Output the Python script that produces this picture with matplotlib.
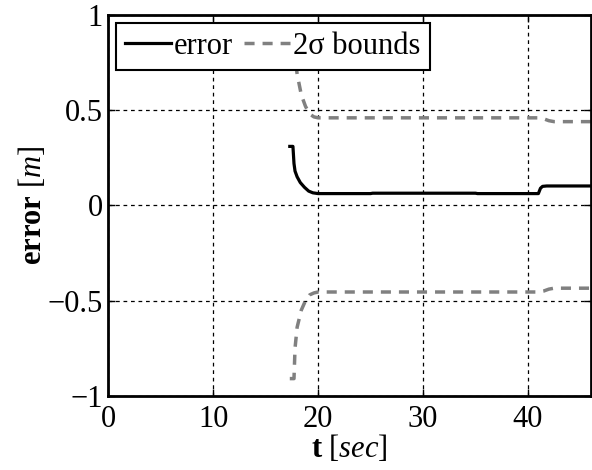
import matplotlib
matplotlib.use("Agg")
import matplotlib.pyplot as plt

plt.rcParams['font.family'] = ['Liberation Serif', 'DejaVu Serif']
plt.rcParams['mathtext.fontset'] = 'custom'
plt.rcParams['mathtext.rm'] = 'Liberation Serif'
plt.rcParams['mathtext.it'] = 'Liberation Serif:italic'
plt.rcParams['mathtext.bf'] = 'Liberation Serif:bold'

# error series
t_err = [17.3, 17.6, 17.7, 17.8, 18.0, 18.3, 18.7, 19.1, 19.5, 20.0, 25.0, 25.2, 35.0, 35.2, 41.0, 41.2, 41.4, 41.8, 46.0]
err = [0.31, 0.31, 0.22, 0.18, 0.15, 0.12, 0.095, 0.075, 0.066, 0.062, 0.062, 0.064, 0.064, 0.062, 0.062, 0.09, 0.10, 0.102, 0.102]

# 2-sigma bounds
t_bnd = [17.3, 17.7, 17.8, 18.0, 18.4, 18.8, 19.2, 19.6, 20.0, 41.0, 41.5, 42.0, 42.5, 46.0]
lower = [-0.91, -0.91, -0.75, -0.64, -0.55, -0.50, -0.47, -0.46, -0.455, -0.455, -0.45, -0.44, -0.435, -0.435]
upper = [0.91, 0.91, 0.78, 0.69, 0.58, 0.52, 0.48, 0.465, 0.46, 0.46, 0.455, 0.445, 0.44, 0.44]

xticks = [0, 10, 20, 30, 40]
yticks = [-1, -0.5, 0, 0.5, 1]
yticklabels = ['\u22121', '\u22120.5', '0', '0.5', '1']

FS = 22

fig = plt.figure(figsize=(5.92, 4.70), dpi=100)
ax = fig.add_axes([0.183, 0.158, 0.815, 0.810])

gray = (0.5, 0.5, 0.5)
ax.plot(t_err, err, color='black', lw=2.3, label='error', zorder=3)
ax.plot(t_bnd, upper, color=gray, lw=2.5, ls=(0, (2.9, 2.3)), label='2\u03c3 bounds', zorder=2)
ax.plot(t_bnd, lower, color=gray, lw=2.5, ls=(0, (2.9, 2.3)), zorder=2)

ax.set_xlim(0, 46)
ax.set_ylim(-1, 1)
ax.set_xticks(xticks)
ax.set_yticks(yticks)
ax.set_yticklabels(yticklabels)
ax.tick_params(direction='in', length=5, width=1, labelsize=FS, pad=4,
               top=True, right=True)
ax.tick_params(axis='x', pad=7)
ax.grid(True, color='black', ls=(0, (3, 3)), lw=0.9)
for s in ax.spines.values():
    s.set_linewidth(2)

ax.set_xlabel(r'$\mathbf{t}$ [$\mathit{sec}$]', fontsize=FS, labelpad=-1)
ax.set_ylabel(r'$\mathbf{error}$ [$\mathit{m}$]', fontsize=FS, labelpad=0)

leg = ax.legend(loc='upper left', ncol=2, fontsize=FS, frameon=True, fancybox=False,
                framealpha=1, edgecolor='black', handlelength=1.5, handletextpad=0.1,
                columnspacing=0.36, borderpad=0.3, borderaxespad=0.25)
leg.get_frame().set_linewidth(1.5)

fig.savefig('out.png', dpi=100)
